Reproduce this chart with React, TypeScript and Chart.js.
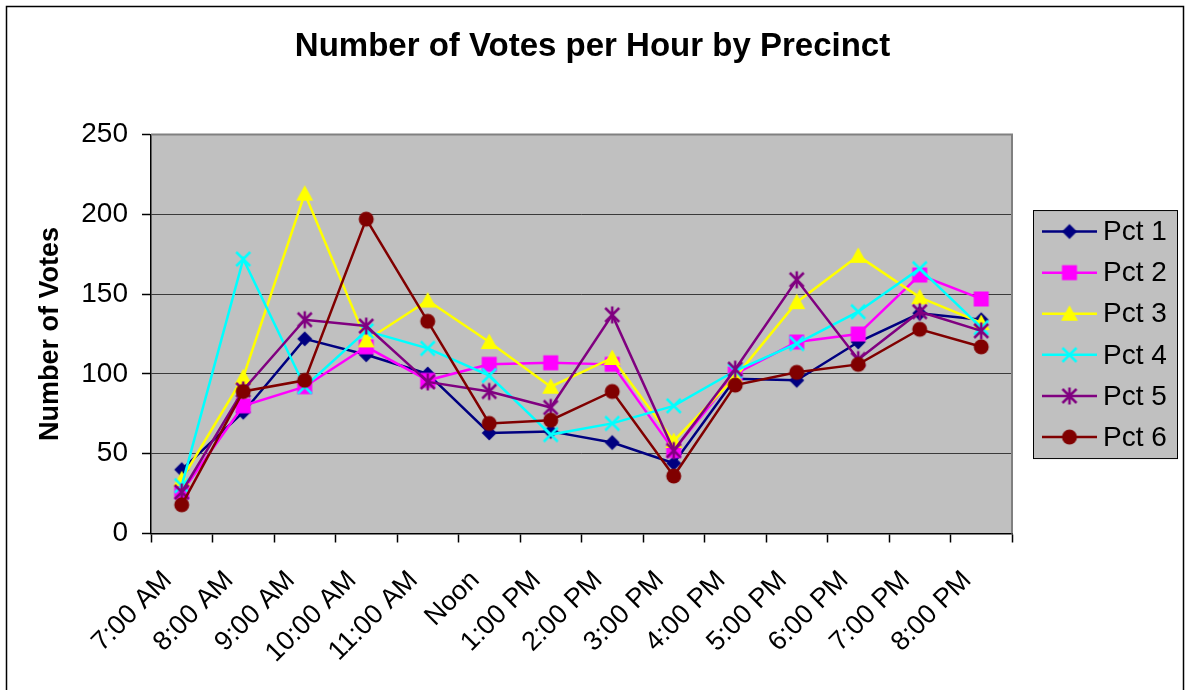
import React, { useEffect, useRef } from 'react';
import { Chart, registerables } from 'chart.js';

Chart.register(...registerables);

const categories = ['7:00 AM', '8:00 AM', '9:00 AM', '10:00 AM', '11:00 AM', 'Noon', '1:00 PM', '2:00 PM', '3:00 PM', '4:00 PM', '5:00 PM', '6:00 PM', '7:00 PM', '8:00 PM'];
const seriesNames = ['Pct 1', 'Pct 2', 'Pct 3', 'Pct 4', 'Pct 5', 'Pct 6'];
const pct1 = [40, 76, 122, 112, 100, 63, 64, 57, 44, 97, 96, 120, 138, 134];
const pct2 = [26, 80, 92, 117, 96, 106, 107, 106, 52, 100, 120, 125, 162, 147];
const pct3 = [34, 98, 213, 121, 146, 120, 92, 110, 58, 98, 145, 174, 148, 132];
const pct4 = [30, 172, 92, 127, 116, 99, 62, 69, 80, 102, 119, 139, 166, 129];
const pct5 = [26, 90, 134, 130, 95, 89, 79, 137, 52, 103, 159, 109, 139, 127];
const pct6 = [18, 89, 96, 197, 133, 69, 71, 89, 36, 93, 101, 106, 128, 117];
const yTicks = [0, 50, 100, 150, 200, 250];

const chartTitle = 'Number of Votes per Hour by Precinct';
const yTitle = 'Number of Votes';
const seriesColors = ['#000080', '#FF00FF', '#FFFF00', '#00FFFF', '#800080', '#800000'];
const markerKinds = ['diamond', 'square', 'triangle', 'x', 'star', 'circle'];
const FONT = 'Arial, "Liberation Sans", sans-serif';

function makeMarker(kind: string, color: string): HTMLCanvasElement {
  const s = 24;
  const c = document.createElement('canvas');
  c.width = s;
  c.height = s;
  const ctx = c.getContext('2d')!;
  const m = s / 2;
  ctx.fillStyle = color;
  ctx.strokeStyle = color;
  ctx.lineWidth = 2.5;
  ctx.beginPath();
  switch (kind) {
    case 'diamond':
      ctx.moveTo(m, m - 7.5);
      ctx.lineTo(m + 7.5, m);
      ctx.lineTo(m, m + 7.5);
      ctx.lineTo(m - 7.5, m);
      ctx.closePath();
      ctx.fill();
      break;
    case 'square':
      ctx.rect(m - 7.5, m - 7.5, 15, 15);
      ctx.fill();
      break;
    case 'triangle':
      ctx.moveTo(m, m - 8.5);
      ctx.lineTo(m + 8.5, m + 7);
      ctx.lineTo(m - 8.5, m + 7);
      ctx.closePath();
      ctx.fill();
      break;
    case 'x':
      ctx.moveTo(m - 7, m - 7);
      ctx.lineTo(m + 7, m + 7);
      ctx.moveTo(m - 7, m + 7);
      ctx.lineTo(m + 7, m - 7);
      ctx.stroke();
      break;
    case 'star':
      ctx.moveTo(m - 7, m - 7);
      ctx.lineTo(m + 7, m + 7);
      ctx.moveTo(m - 7, m + 7);
      ctx.lineTo(m + 7, m - 7);
      ctx.moveTo(m, m - 8.5);
      ctx.lineTo(m, m + 8.5);
      ctx.stroke();
      break;
    default:
      ctx.arc(m, m, 7.5, 0, Math.PI * 2);
      ctx.fill();
  }
  return c;
}

export default function App() {
  const ref = useRef<HTMLCanvasElement | null>(null);

  useEffect(() => {
    if (!ref.current) return;
    Chart.defaults.font.family = FONT;
    const allData = [pct1, pct2, pct3, pct4, pct5, pct6];
    const markers = markerKinds.map((k, i) => makeMarker(k, seriesColors[i]));

    const decor = {
      id: 'decor',
      beforeDraw(chart: any) {
        const { ctx, chartArea: a } = chart;
        ctx.save();
        ctx.fillStyle = '#ffffff';
        ctx.fillRect(0, 0, chart.width, chart.height);
        ctx.fillStyle = '#C0C0C0';
        ctx.fillRect(a.left, a.top, a.right - a.left, a.bottom - a.top);
        ctx.strokeStyle = '#000000';
        ctx.lineWidth = 1.5;
        ctx.strokeRect(6.5, 6.5, 1177, 740);
        ctx.restore();
      },
      beforeDatasetsDraw(chart: any) {
        const { ctx, chartArea: a } = chart;
        ctx.save();
        ctx.strokeStyle = '#808080';
        ctx.lineWidth = 2;
        ctx.beginPath();
        ctx.moveTo(a.left, a.top);
        ctx.lineTo(a.right, a.top);
        ctx.lineTo(a.right, a.bottom);
        ctx.stroke();
        ctx.restore();
      },
      afterDraw(chart: any) {
        const { ctx, chartArea: a } = chart;
        const bx = a.right + 21;
        const bw = 144;
        const bh = 248;
        const by = (a.top + a.bottom) / 2 - bh / 2;
        ctx.save();
        ctx.fillStyle = '#C0C0C0';
        ctx.fillRect(bx, by, bw, bh);
        ctx.strokeStyle = '#000000';
        ctx.lineWidth = 1;
        ctx.strokeRect(bx + 0.5, by + 0.5, bw, bh);
        ctx.font = '28px ' + FONT;
        ctx.textBaseline = 'middle';
        ctx.textAlign = 'left';
        seriesNames.forEach((name, i) => {
          const y = by + 21.5 + i * 41.1;
          ctx.strokeStyle = seriesColors[i];
          ctx.lineWidth = 2.5;
          ctx.beginPath();
          ctx.moveTo(bx + 9, y);
          ctx.lineTo(bx + 64, y);
          ctx.stroke();
          const mk = markers[i];
          ctx.drawImage(mk, bx + 36.5 - mk.width / 2, y - mk.height / 2);
          ctx.fillStyle = '#000000';
          ctx.fillText(name, bx + 70, y + 1);
        });
        ctx.restore();
      },
    };

    const chart = new Chart(ref.current, {
      type: 'line',
      data: {
        labels: categories,
        datasets: seriesNames.map((name, i) => ({
          label: name,
          data: allData[i],
          borderColor: seriesColors[i],
          backgroundColor: seriesColors[i],
          borderWidth: 2.5,
          pointStyle: markers[i] as any,
          pointRadius: 8,
          tension: 0,
          fill: false,
          order: seriesNames.length - i,
          yAxisID: 'y',
        })),
      },
      options: {
        animation: false,
        responsive: false,
        maintainAspectRatio: false,
        layout: { padding: 0 },
        plugins: {
          legend: { display: false },
          tooltip: { enabled: false },
          title: {
            display: true,
            text: chartTitle,
            color: '#000000',
            font: { family: FONT, size: 33, weight: 'bold' },
            padding: { top: 27, bottom: 68 },
          },
        },
        scales: {
          x: {
            type: 'category',
            offset: true,
            grid: {
              offset: true,
              drawOnChartArea: false,
              drawTicks: true,
              tickLength: 9,
              tickColor: '#000000',
              tickWidth: 1.5,
            },
            border: { color: '#000000', width: 1.5 },
            ticks: {
              autoSkip: false,
              maxRotation: 45,
              minRotation: 45,
              color: '#000000',
              padding: 22,
              labelOffset: -14,
              font: { family: FONT, size: 27 },
            },
            afterFit: (s: any) => {
              s.height = 156.5;
            },
          },
          y: {
            min: 0,
            max: 250,
            afterBuildTicks: (s: any) => {
              s.ticks = yTicks.map((v) => ({ value: v }));
            },
            grid: {
              color: '#3a3a3a',
              lineWidth: 1,
              tickLength: 9,
              tickColor: '#000000',
              tickWidth: 1.5,
            },
            border: { color: '#000000', width: 1.5 },
            ticks: {
              color: '#000000',
              padding: 14,
              font: { family: FONT, size: 28 },
            },
            title: {
              display: true,
              text: yTitle,
              color: '#000000',
              font: { family: FONT, size: 27, weight: 'bold' },
              padding: { top: 34, bottom: 0 },
            },
            afterFit: (s: any) => {
              s.width = 151;
            },
          },
          legendSpace: {
            type: 'linear',
            position: 'right',
            display: true,
            min: 0,
            max: 1,
            grid: { display: false, drawTicks: false },
            border: { display: false },
            ticks: { display: false },
            afterFit: (s: any) => {
              s.width = 173;
            },
          },
        },
      },
      plugins: [decor],
    });
    return () => chart.destroy();
  }, []);

  return (
    <div style={{ position: 'absolute', left: 0, top: 0, width: 1185, height: 690 }}>
      <canvas ref={ref} width={1185} height={690} style={{ display: 'block' }} />
    </div>
  );
}
